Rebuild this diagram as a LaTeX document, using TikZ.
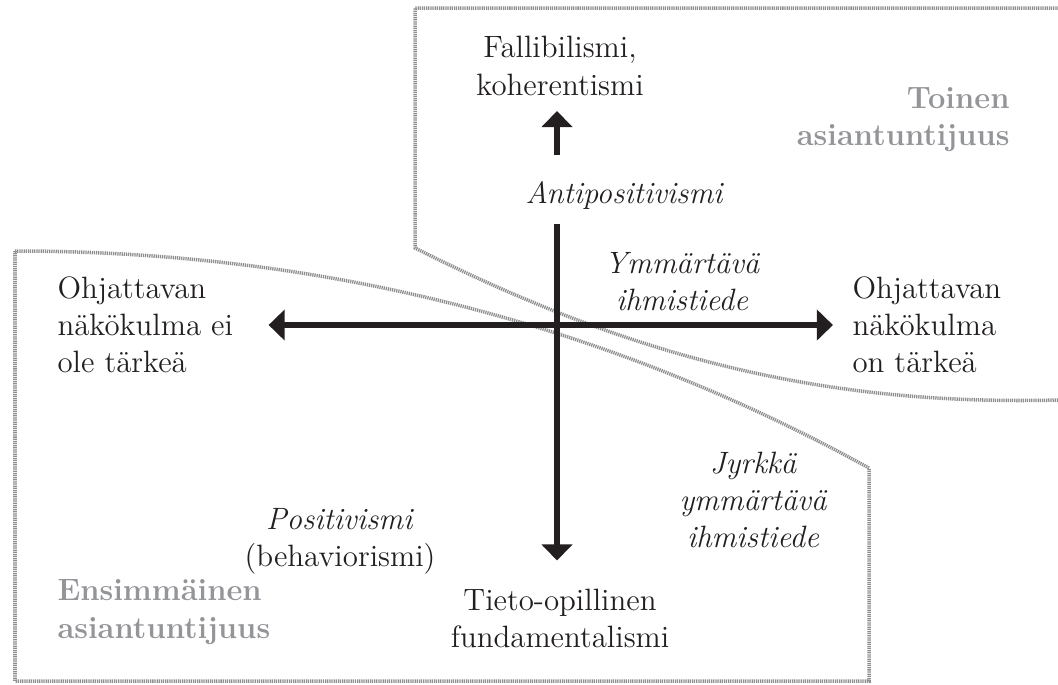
\documentclass[tikz,border=0pt]{standalone}
\usetikzlibrary{arrows.meta}
\definecolor{ink}{HTML}{231F20}
\definecolor{fog}{HTML}{939598}
\definecolor{rim}{HTML}{8C8E90}
\tikzset{
  region/.style={rim, line width=1.4pt, dash pattern=on 0.5pt off 0.35pt},
  axis/.style={ink, line width=2.2pt},
  lbl/.style={ink, inner sep=0pt, align=center},
  slant/.style={lbl, font=\itshape},
  zone/.style={fog, inner sep=0pt, font=\bfseries},
}
\begin{document}
\fontsize{12.3}{14.8}\selectfont
\begin{tikzpicture}[>={Triangle[length=6.4pt,width=12pt]}, x=0.014cm, y=-0.014cm]
  \useasboundingbox (0,0) rectangle (1058,684);
  % the two areas of expertise
  \draw[region] (1058,400) .. controls (820,406) and (630,356) .. (415,248) -- (415,8) -- (1070,8);
  \draw[region] (15,251) .. controls (315,251) and (600,320) .. (869,468) -- (869,681) -- (15,681) -- cycle;
  % labels
  \node[lbl] (fall) at (560,66) {Fallibilismi,\\koherentismi};
  \node[slant] (anti) at (624,195) {Antipositivismi};
  \node[slant] (ymm) at (682,282) {Ymmärtävä\\ihmistiede};
  \node[lbl, anchor=west, align=left] (neg) at (57,325) {Ohjattavan\\näkökulma ei\\ole tärkeä};
  \node[lbl, anchor=west, align=left] (pos) at (852,325) {Ohjattavan\\näkökulma\\on tärkeä};
  \node[lbl] (posit) at (340,541) {\textit{Positivismi}\\(behaviorismi)};
  \node[slant] (jyrk) at (753,500) {Jyrkkä\\ymmärtävä\\ihmistiede};
  \node[lbl] (tieto) at (560,618) {Tieto-opillinen\\fundamentalismi};
  \node[zone, anchor=east, align=right] (toinen) at (1010,120) {Toinen\\asiantuntijuus};
  \node[zone, anchor=west, align=left] (ensi) at (57,612) {Ensimmäinen\\asiantuntijuus};
  % axes
  \coordinate (o) at (557,325);
  \draw[axis, ->] ([yshift=10pt]o |- anti.north) -- ([yshift=-6pt]o |- fall.south);
  \draw[axis, ->] ([yshift=-5.6pt]o |- anti.south) -- ([yshift=11pt]o |- tieto.north);
  \draw[axis, <->] ([xshift=14pt]o -| neg.east) -- ([xshift=-7.6pt]o -| pos.west);
\end{tikzpicture}
\end{document}
